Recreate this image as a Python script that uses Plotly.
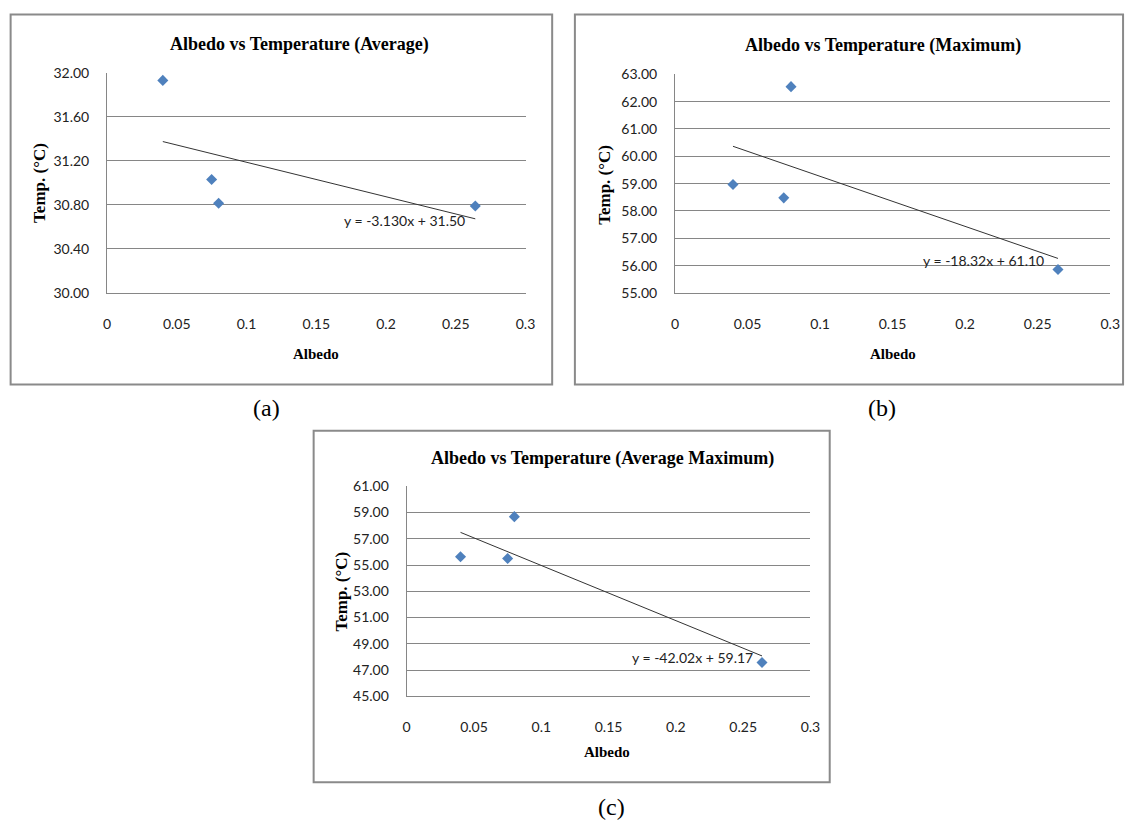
import plotly.graph_objects as go

# ---------------- data ----------------
albedo = [0.040, 0.075, 0.080, 0.264]

temp_avg = [31.93, 31.03, 30.815, 30.79]
temp_max = [58.97, 58.48, 62.55, 55.86]
temp_avgmax = [55.63, 55.50, 58.69, 47.57]

# trendline coefficients as printed on the charts
slope_avg, icpt_avg = -3.130, 31.50
slope_max, icpt_max = -18.32, 61.10
slope_avgmax, icpt_avgmax = -42.02, 59.17

eq_avg = "y = -3.130x + 31.50"
eq_max = "y = -18.32x + 61.10"
eq_avgmax = "y = -42.02x + 59.17"

titles = ["Albedo vs Temperature (Average)",
          "Albedo vs Temperature (Maximum)",
          "Albedo vs Temperature (Average Maximum)"]
panel_labels = ["(a)", "(b)", "(c)"]

x_tickvals = [0, 0.05, 0.1, 0.15, 0.2, 0.25, 0.3]
x_ticktext = ["0", "0.05", "0.1", "0.15", "0.2", "0.25", "0.3"]

y_ranges = [(30.0, 32.0), (55.0, 63.0), (45.0, 61.0)]
y_dticks = [0.4, 1.0, 2.0]

# ---------------- layout helpers ----------------
W, H = 1138, 829


def fx(p):
    return p / W


def fy(p):
    return 1 - p / H


# plot areas in pixels: (left, right, top, bottom)
plot_px = [(104.3, 528.0, 65.0, 290.0),
           (679.3, 1120.0, 66.7, 289.9),
           (407.7, 816.5, 487.3, 701.7)]
# chart boxes in pixels: (x0, y0, x1, y1)
box_px = [(6.7, 5.7, 555.0, 383.3),
          (578.0, 5.7, 1133.0, 383.3),
          (313.5, 430.7, 836.0, 789.5)]
title_px = [(299, 36), (890, 37), (606, 459)]
xtitle_px = [(316, 352), (900, 352), (611, 759)]
ytitle_px = [(36, 178), (608, 180), (342, 595)]
eq_px = [(405, 216), (992, 257), (697, 662)]
panel_px = [(266, 407), (889, 407), (615, 815)]

GRID = "#868686"
BLUE = "#4F81BD"
TICKFONT = dict(family="Lato", size=14, color="#222222")
SERIF = "Liberation Serif"

series = [temp_avg, temp_max, temp_avgmax]
coefs = [(slope_avg, icpt_avg), (slope_max, icpt_max), (slope_avgmax, icpt_avgmax)]
equations = [eq_avg, eq_max, eq_avgmax]

fig = go.Figure()
layout = dict(
    width=W, height=H,
    margin=dict(l=0, r=0, t=0, b=0),
    paper_bgcolor="white", plot_bgcolor="white",
    showlegend=False,
)
annotations = []
shapes = []

for i in range(3):
    xa = "x" if i == 0 else f"x{i+1}"
    ya = "y" if i == 0 else f"y{i+1}"
    xkey = "xaxis" if i == 0 else f"xaxis{i+1}"
    ykey = "yaxis" if i == 0 else f"yaxis{i+1}"
    l, r, t, b = plot_px[i]

    # trendline
    slope, icpt = coefs[i]
    x0, x1 = min(albedo), max(albedo)
    fig.add_trace(go.Scatter(
        x=[x0, x1], y=[slope * x0 + icpt, slope * x1 + icpt],
        mode="lines", line=dict(color="#333333", width=1),
        xaxis=xa, yaxis=ya, hoverinfo="skip"))
    # points
    fig.add_trace(go.Scatter(
        x=albedo, y=series[i], mode="markers",
        marker=dict(symbol="diamond", size=8.5, color=BLUE,
                    line=dict(width=0)),
        xaxis=xa, yaxis=ya, cliponaxis=False))

    layout[xkey] = dict(
        domain=[fx(l), fx(r)], anchor=ya, range=[0, 0.3],
        tickvals=x_tickvals, ticktext=x_ticktext,
        showgrid=False, zeroline=False, showline=True, linecolor=GRID,
        linewidth=1, ticks="", ticklabelstandoff=18, tickfont=TICKFONT)
    lo, hi = y_ranges[i]
    layout[ykey] = dict(
        domain=[fy(b), fy(t)], anchor=xa, range=[lo, hi],
        tick0=lo, dtick=y_dticks[i], tickformat=".2f",
        showgrid=True, gridcolor=GRID, gridwidth=1,
        zeroline=False, showline=True, linecolor=GRID, linewidth=1,
        ticks="", ticklabelstandoff=14, tickfont=TICKFONT)

    bx0, by0, bx1, by1 = box_px[i]
    shapes.append(dict(type="rect", xref="paper", yref="paper",
                       x0=fx(bx0), y0=fy(by1), x1=fx(bx1), y1=fy(by0),
                       line=dict(color="#8a8a8a", width=2),
                       fillcolor="rgba(0,0,0,0)", layer="below"))

    tx, ty = title_px[i]
    annotations.append(dict(text=f"<b>{titles[i]}</b>", x=fx(tx), y=fy(ty),
                            xref="paper", yref="paper", showarrow=False,
                            font=dict(family=SERIF, size=18, color="black"),
                            xanchor="center", yanchor="middle"))
    ax_, ay_ = xtitle_px[i]
    annotations.append(dict(text="<b>Albedo</b>", x=fx(ax_), y=fy(ay_),
                            xref="paper", yref="paper", showarrow=False,
                            font=dict(family=SERIF, size=15, color="black"),
                            xanchor="center", yanchor="middle"))
    yx, yy = ytitle_px[i]
    annotations.append(dict(text="<b>Temp. (°C)</b>", x=fx(yx), y=fy(yy),
                            xref="paper", yref="paper", showarrow=False,
                            textangle=-90,
                            font=dict(family=SERIF, size=17, color="black"),
                            xanchor="center", yanchor="middle"))
    ex, ey = eq_px[i]
    annotations.append(dict(text=equations[i], x=fx(ex), y=fy(ey),
                            xref="paper", yref="paper", showarrow=False,
                            font=dict(family="Lato", size=14, color="#222222"),
                            xanchor="center", yanchor="middle"))
    px_, py_ = panel_px[i]
    annotations.append(dict(text=panel_labels[i], x=fx(px_), y=fy(py_),
                            xref="paper", yref="paper", showarrow=False,
                            font=dict(family=SERIF, size=24, color="black"),
                            xanchor="center", yanchor="middle"))

layout["annotations"] = annotations
layout["shapes"] = shapes
fig.update_layout(**layout)

fig.write_html(
    "out.html",
    config={"displayModeBar": False},
    post_script="document.body.style.margin='0';"
                "document.body.style.overflow='hidden';",
)
